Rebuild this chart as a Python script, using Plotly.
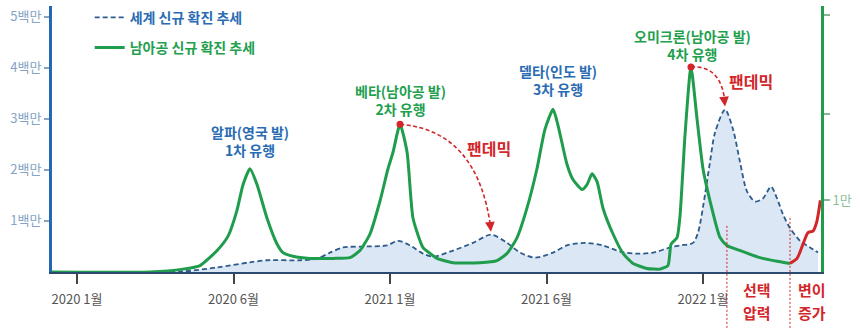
import plotly.graph_objects as go

FONT = "Noto Sans CJK KR"

# ---------------- data ----------------
tick_pos = [0, 1, 2, 3, 4]
tick_labels = ["2020 1월", "2020 6월", "2021 1월", "2021 6월", "2022 1월"]

left_tick_vals = [1, 2, 3, 4, 5]
left_tick_text = ["1백만", "2백만", "3백만", "4백만", "5백만"]

right_tick_vals = [1.0, 2.2, 3.58]
right_tick_text = ["1만", "", ""]

# world new-case trend (millions), timeline position (tick units)
world_t = [0.083, 0.530, 0.677, 0.895, 1.105, 1.214, 1.425, 1.534, 1.617, 1.700,
           1.853, 1.981, 2.051, 2.128, 2.211, 2.275, 2.403, 2.530, 2.645, 2.748,
           2.831, 2.927, 3.042, 3.131, 3.246, 3.361, 3.470, 3.578, 3.681, 3.789,
           3.853, 3.936, 3.968, 4.013, 4.045, 4.077, 4.141, 4.192, 4.236, 4.281,
           4.332, 4.383, 4.435, 4.473, 4.511, 4.556, 4.620, 4.684, 4.735]
world_m = [0.0, 0.0, 0.01, 0.09, 0.19, 0.23, 0.23, 0.26, 0.38, 0.48,
           0.50, 0.52, 0.61, 0.52, 0.36, 0.30, 0.42, 0.57, 0.73, 0.57,
           0.38, 0.28, 0.38, 0.52, 0.57, 0.52, 0.40, 0.36, 0.38, 0.48,
           0.52, 0.57, 0.77, 1.52, 2.16, 2.73, 3.18, 2.79, 2.16, 1.58,
           1.38, 1.44, 1.67, 1.44, 1.13, 0.86, 0.61, 0.48, 0.38]

# South Africa new-case trend (10k units)
sa_t = [-0.160, 0.466, 0.677, 0.786, 0.895, 0.965, 1.022, 1.061, 1.105, 1.150,
        1.214, 1.278, 1.316, 1.380, 1.489, 1.636, 1.744, 1.808, 1.872, 1.936,
        1.987, 2.019, 2.064, 2.109, 2.147, 2.211, 2.256, 2.300, 2.403, 2.575,
        2.684, 2.748, 2.812, 2.875, 2.939, 2.990, 3.042, 3.073, 3.131, 3.169,
        3.227, 3.259, 3.291, 3.323, 3.361, 3.425, 3.489, 3.553, 3.642, 3.725,
        3.776, 3.796, 3.834, 3.853, 3.885, 3.923, 3.962, 4.000, 4.045, 4.109,
        4.153, 4.236, 4.364, 4.473, 4.556]
sa_10k = [0.0, 0.0, 0.04, 0.09, 0.30, 0.50, 0.86, 1.22, 1.44, 1.22,
          0.75, 0.39, 0.27, 0.22, 0.19, 0.19, 0.20, 0.30, 0.53, 0.99,
          1.44, 1.67, 2.06, 1.67, 0.75, 0.34, 0.26, 0.19, 0.13, 0.13,
          0.16, 0.26, 0.48, 0.89, 1.44, 1.99, 2.27, 2.05, 1.50, 1.29,
          1.15, 1.22, 1.37, 1.26, 0.89, 0.53, 0.26, 0.12, 0.05, 0.04,
          0.09, 0.39, 0.48, 0.78, 1.91, 2.86, 2.13, 1.44, 0.99, 0.48,
          0.37, 0.30, 0.20, 0.15, 0.12]

# latest rise (variant increase)
sa_rise_t = [4.556, 4.601, 4.639, 4.671, 4.703, 4.728, 4.750]
sa_rise_10k = [0.12, 0.19, 0.39, 0.55, 0.57, 0.71, 1.00]

# ---------------- styling constants ----------------
X_RANGE = [-0.16, 4.754]
Y_MAX = 5.207
Y2_MAX = 3.71
K = Y_MAX / Y2_MAX  # convert y2 units into y units

BLUE_TXT = "#2a6cb3"
GREEN = "#1f9d4c"
GREEN_TXT = "#22a04e"
RED = "#d3262a"
WORLD_LINE = "#2d5c8c"
FILL = "#dbe7f4"

fig = go.Figure()

# world fill
fig.add_trace(go.Scatter(x=world_t, y=world_m, mode="lines", fill="tozeroy",
                         fillcolor=FILL, line=dict(width=0, shape="spline", smoothing=0.8),
                         showlegend=False, hoverinfo="skip"))
# world dashed line
fig.add_trace(go.Scatter(x=world_t, y=world_m, mode="lines",
                         line=dict(color=WORLD_LINE, width=1.8, dash="5px,3px",
                                   shape="spline", smoothing=0.8),
                         name=f"<span style='color:{BLUE_TXT}'><b>세계 신규 확진 추세</b></span>",
                         legendgroup="w"))
# South Africa line
fig.add_trace(go.Scatter(x=sa_t, y=sa_10k, yaxis="y2", mode="lines",
                         line=dict(color=GREEN, width=3, shape="spline", smoothing=0.55),
                         name=f"<span style='color:{GREEN_TXT}'><b>남아공 신규 확진 추세</b></span>",
                         legendgroup="s"))
fig.add_trace(go.Scatter(x=sa_rise_t, y=sa_rise_10k, yaxis="y2", mode="lines",
                         line=dict(color=RED, width=3, shape="spline", smoothing=0.6),
                         showlegend=False))


def peak_in(ts, vs, lo, hi):
    best = None
    for t, v in zip(ts, vs):
        if lo <= t <= hi and (best is None or v > best[1]):
            best = (t, v)
    return best


beta_peak = peak_in(sa_t, sa_10k, 1.9, 2.3)
omi_peak = peak_in(sa_t, sa_10k, 3.8, 4.1)
world_w2 = peak_in(world_t, world_m, 2.4, 2.9)
world_w4 = peak_in(world_t, world_m, 4.0, 4.3)

fig.add_trace(go.Scatter(x=[beta_peak[0], omi_peak[0]], y=[beta_peak[1], omi_peak[1]],
                         yaxis="y2", mode="markers",
                         marker=dict(color=RED, size=7), showlegend=False))

shapes = []
annotations = []


def curved_arrow(src, dst, ctrl_dx, ctrl_dy):
    x0, y0 = src
    x1, y1 = dst
    cx, cy = x0 + ctrl_dx, y0 + ctrl_dy
    shapes.append(dict(type="path", xref="x", yref="y",
                       path=f"M {x0},{y0} Q {cx},{cy} {x1},{y1 + 0.1}",
                       line=dict(color=RED, width=1.6, dash="4px,2.5px")))
    annotations.append(dict(x=x1, y=y1 + 0.06, xref="x", yref="y", text="",
                            showarrow=True, arrowhead=2, arrowsize=1.3,
                            arrowwidth=1.5, arrowcolor=RED, ax=-1, ay=-9,
                            standoff=0))


curved_arrow((beta_peak[0], beta_peak[1] * K), (world_w2[0], world_w2[1]), 0.50, -0.12)
curved_arrow((omi_peak[0], omi_peak[1] * K), (world_w4[0], world_w4[1]), 0.20, 0.04)

# vertical dotted lines (selection pressure / variant increase)
for xv, ytop in [(4.153, 0.174), (4.556, 0.211)]:
    shapes.append(dict(type="line", xref="x", yref="paper", x0=xv, x1=xv,
                       y0=-0.21, y1=ytop, line=dict(color=RED, width=1, dash="2px,2px")))


def label(x, y, text, color, size=14, yref="y", bold=True):
    t = f"<b>{text}</b>" if bold else text
    annotations.append(dict(x=x, y=y, xref="x", yref=yref, text=t, showarrow=False,
                            xanchor="center", yanchor="middle",
                            font=dict(family=FONT, size=size, color=color),
                            align="center"))


label(1.105, 2.56, "알파(영국 발)<br>1차 유행", BLUE_TXT)
label(2.064, 3.37, "베타(남아공 발)<br>2차 유행", GREEN_TXT)
label(3.075, 3.76, "델타(인도 발)<br>3차 유행", BLUE_TXT)
label(3.930, 4.45, "오미크론(남아공 발)<br>4차 유행", GREEN_TXT)
label(2.630, 2.43, "팬데믹", RED, size=16)
label(4.307, 3.74, "팬데믹", RED, size=16)
for xc, l1, l2 in [(4.345, "선택", "압력"), (4.696, "변이", "증가")]:
    label(xc, -0.066, l1, RED, size=15, yref="paper")
    label(xc, -0.153, l2, RED, size=15, yref="paper")

fig.update_layout(
    width=860, height=335,
    margin=dict(l=52, r=39, t=2, b=63),
    paper_bgcolor="white", plot_bgcolor="white",
    font=dict(family=FONT),
    showlegend=True,
    legend=dict(x=0.049, y=1.016, xanchor="left", yanchor="top",
                font=dict(family=FONT, size=14),
                bgcolor="rgba(0,0,0,0)", tracegroupgap=9, traceorder="grouped"),
    xaxis=dict(range=X_RANGE, tickvals=tick_pos, ticktext=tick_labels,
               showgrid=False, zeroline=False, showline=True, linecolor="#2c4a6e",
               linewidth=2, ticks="outside", ticklen=10, tickwidth=1.5,
               tickcolor="#444444", ticklabelstandoff=4,
               tickfont=dict(family=FONT, size=13, color="#555555")),
    yaxis=dict(range=[0, Y_MAX], tickvals=left_tick_vals, ticktext=left_tick_text,
               showgrid=False, zeroline=False, showline=True, linecolor="#2467b3",
               linewidth=3, ticks="outside", ticklen=5, tickwidth=1.5,
               tickcolor="#8aa3c0",
               tickfont=dict(family=FONT, size=13, color="#84a3c6")),
    yaxis2=dict(range=[0, Y2_MAX], overlaying="y", side="right",
                tickvals=right_tick_vals, ticktext=right_tick_text,
                showgrid=False, zeroline=False, showline=True, linecolor=GREEN,
                linewidth=3, ticks="outside", ticklen=6, tickwidth=1.5,
                tickcolor="#86b896",
                tickfont=dict(family=FONT, size=13, color="#8cbf9c")),
    shapes=shapes,
    annotations=annotations,
)

fig.write_html("out.html")
